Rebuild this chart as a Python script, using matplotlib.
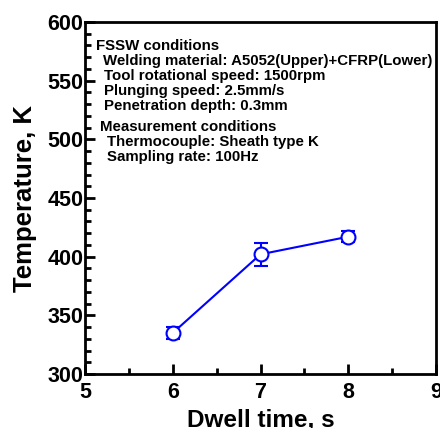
import numpy as np
import matplotlib.pyplot as plt
from matplotlib.ticker import MultipleLocator

plt.rcParams['font.family'] = ['Liberation Sans', 'DejaVu Sans']
plt.rcParams['font.weight'] = 'bold'

dwell = [6, 7, 8]
temp = [335, 402, 417]
err = [5, 10, 4.5]

note_lines = [
    ("FSSW conditions", 96, 46),
    ("Welding material: A5052(Upper)+CFRP(Lower)", 103, 61),
    ("Tool rotational speed: 1500rpm", 104, 76),
    ("Plunging speed: 2.5mm/s", 104, 91),
    ("Penetration depth: 0.3mm", 104, 106),
    ("Measurement conditions", 100, 127),
    ("Thermocouple: Sheath type K", 107, 142),
    ("Sampling rate: 100Hz", 107, 157),
]

W, H = 440, 428
fig = plt.figure(figsize=(4.4, 4.28), dpi=100)
ax = fig.add_axes([85/W, 1 - 374/H, (436-85)/W, (374-22)/H])

ax.errorbar(dwell, temp, yerr=err, color='#0000ff', lw=1.5, marker='o',
            ms=10, mfc='white', mec='#0000ff', mew=1.5, capsize=5, capthick=1.5,
            elinewidth=1.5)

ax.set_xlim(5, 9)
ax.set_ylim(300, 600)
ax.xaxis.set_major_locator(MultipleLocator(1))
ax.xaxis.set_minor_locator(MultipleLocator(0.5))
ax.yaxis.set_major_locator(MultipleLocator(50))
ax.yaxis.set_minor_locator(MultipleLocator(10))
ax.tick_params(which='both', direction='in', top=False, right=False, width=2)
ax.tick_params(which='major', length=7, labelsize=15.5)
ax.tick_params(axis='x', which='major', pad=5.5)
ax.tick_params(axis='y', which='major', pad=1)
ax.tick_params(which='minor', length=4)
for s in ax.spines.values():
    s.set_linewidth(2)

ax.set_xlabel("Dwell time, s", fontsize=17.5, fontweight='bold', labelpad=4)
ax.set_ylabel("Temperature, K", fontsize=18.5, fontweight='bold', labelpad=7.5)

for txt, px, py in note_lines:
    fig.text(px/W, 1 - py/H, txt, fontsize=10.8, fontweight='bold',
             ha='left', va='center')

fig.savefig('out.png', dpi=100)
